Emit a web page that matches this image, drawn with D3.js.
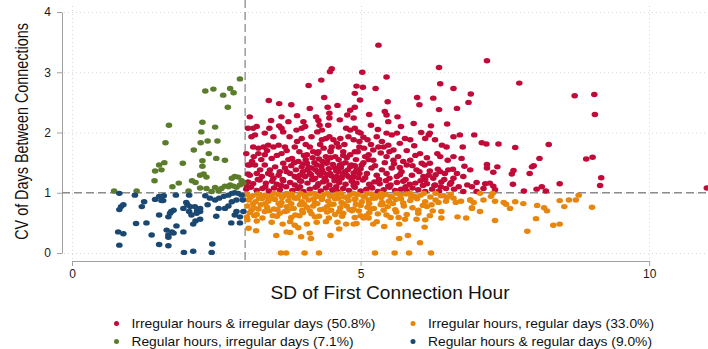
<!DOCTYPE html>
<html>
<head>
<meta charset="utf-8">
<script src="https://cdn.jsdelivr.net/npm/d3@7"></script>
<style>
  html, body { margin: 0; padding: 0; background: #fff; }
  svg { display: block; font-family: "Liberation Sans", Arial, Helvetica, sans-serif; }
</style>
</head>
<body>
<svg id="chart" width="708" height="349"></svg>
<script>
// Each point: [SD of first connection hour, CV of days between connections]

const irregularHoursIrregularDays = [
  [5.31,3.45],[4.50,3.06],[4.47,3.01],[5.03,3.00],[5.45,2.92],[6.36,3.08],[4.32,2.87],[4.10,2.78],[4.93,2.77],[5.04,2.75],
  [5.26,2.73],[6.38,2.81],[6.61,2.73],[6.91,2.64],[4.90,2.65],[4.37,2.58],[4.99,2.54],[3.41,2.53],[3.59,2.48],[3.80,2.46],
  [5.47,2.51],[5.98,2.58],[6.02,2.46],[6.26,2.57],[6.36,2.38],[6.67,2.40],[6.87,2.50],[4.43,2.42],[4.90,2.42],[4.82,2.37],
  [5.42,2.35],[4.46,2.32],[4.46,2.24],[3.08,2.26],[3.63,2.26],[4.23,2.26],[4.27,2.20],[4.77,2.29],[4.88,2.24],[5.45,2.29],
  [5.48,2.18],[5.64,2.26],[3.75,2.18],[4.01,2.18],[4.04,2.10],[3.14,2.07],[3.20,2.10],[3.42,2.07],[3.59,2.11],[3.63,2.07],
  [3.89,2.04],[3.98,2.07],[4.29,2.12],[4.33,2.04],[4.44,2.12],[4.64,2.21],[4.75,2.07],[4.82,2.04],[4.90,2.07],[4.96,2.01],
  [5.00,1.99],[5.18,2.12],[5.92,2.15],[6.22,2.11],[6.50,2.14],
  [3.02,1.65],[3.11,1.93],[3.17,1.96],[3.34,1.99],[3.49,1.93],[3.66,2.01],[3.77,1.93],[3.98,1.90],[4.15,1.93],[4.25,2.01],
  [4.33,1.88],[4.46,1.93],[4.53,1.88],[4.59,1.82],[4.50,1.76],[4.79,1.93],[4.88,1.88],[4.98,1.85],[5.12,1.88],[5.28,1.93],
  [5.37,1.85],[5.45,1.99],[5.54,1.96],[5.63,1.99],[5.77,1.90],[5.86,1.88],[6.12,1.90],[6.18,1.96],[6.20,1.99],[6.41,1.79],
  [6.49,1.76],[6.61,1.93],[6.72,1.96],[6.77,1.76],[6.33,1.65],[6.38,1.60],[6.61,1.60],[6.29,1.88],[5.93,1.78],[6.51,1.54],
  [6.75,1.57],[6.80,1.44],[6.60,1.39],[5.68,1.42],[6.11,1.46],[6.20,1.36],[6.34,1.39],[6.46,1.32],[6.61,1.24],[6.57,1.17],
  [6.29,1.13],[6.39,1.10],
  [3.14,1.76],[3.23,1.74],[3.32,1.76],[3.40,1.79],[3.49,1.76],[3.58,1.79],[3.69,1.76],[3.15,1.60],[3.23,1.65],[3.34,1.63],
  [3.46,1.57],[3.63,1.65],[3.66,1.49],[3.81,1.57],[3.86,1.76],[3.94,1.68],[4.07,1.63],[4.12,1.76],[4.18,1.68],[4.27,1.68],
  [4.36,1.74],[4.40,1.60],[4.48,1.68],[4.56,1.60],[4.62,1.76],[4.70,1.68],[4.82,1.63],[4.90,1.68],[4.98,1.76],[5.06,1.74],
  [5.14,1.63],[5.22,1.71],[5.31,1.76],[5.40,1.76],[5.48,1.79],[5.57,1.71],[5.68,1.82],[5.08,1.60],[5.22,1.54],[5.45,1.60],
  [5.57,1.54],[5.74,1.52],[5.86,1.54],[6.03,1.65],[6.06,1.49],[6.20,1.49],
  [3.08,1.46],[3.17,1.46],[3.26,1.38],[3.34,1.46],[3.43,1.38],[3.52,1.43],[3.60,1.35],[3.69,1.41],[3.08,1.29],[3.20,1.32],
  [3.29,1.27],[3.40,1.32],[3.49,1.24],[3.58,1.29],[3.78,1.32],[3.86,1.27],[3.98,1.43],[4.07,1.49],[4.15,1.41],[4.24,1.46],
  [4.33,1.38],[4.41,1.49],[4.47,1.32],[4.56,1.41],[4.64,1.46],[4.73,1.35],[4.82,1.43],[3.95,1.29],[4.04,1.27],[4.12,1.32],
  [4.21,1.24],[4.30,1.29],[4.38,1.24],[4.59,1.27],[4.67,1.24],[4.76,1.29],[4.88,1.27],[4.93,1.38],[5.02,1.46],[5.11,1.32],
  [5.19,1.41],[5.28,1.29],[5.37,1.38],[5.45,1.32],[5.54,1.41],[5.63,1.27],[5.71,1.35],[5.80,1.46],[5.89,1.29],[5.97,1.38],
  [6.09,1.27],[6.18,1.29],[6.26,1.24],[6.38,1.35],[6.52,1.38],[6.67,1.32],[6.78,1.27],[6.90,1.38],
  [3.80,1.45],[3.88,1.38],[3.92,1.52],[4.00,1.35],[4.05,1.55],[4.10,1.42],[4.14,1.30],[4.20,1.50],[4.22,1.38],[4.28,1.56],
  [4.32,1.44],[4.36,1.33],[4.42,1.52],[4.45,1.40],[4.50,1.28],[4.52,1.47],[4.58,1.36],[4.62,1.55],[4.66,1.42],[4.70,1.30],
  [4.74,1.50],[4.78,1.38],[4.84,1.46],[4.88,1.33],[4.92,1.55],[4.96,1.25],[5.00,1.40],[5.05,1.50],[4.18,1.22],[4.40,1.20],
  [4.60,1.22],[4.85,1.20],[3.95,1.20],[4.02,1.62],[4.25,1.65],[4.48,1.70],[4.70,1.62],[4.95,1.68],
  [3.05,2.07],[3.05,1.46],[3.05,1.31],[3.03,1.11],
  [3.12,1.52],[3.28,1.55],[3.38,1.70],[3.55,1.62],[3.72,1.70],[3.75,1.55],[3.90,1.85],[4.05,1.80],[4.30,1.80],[4.40,1.90],
  [4.65,1.90],[4.72,1.80],[5.05,1.92],[5.18,1.80],[5.35,1.66],[5.50,1.68],[5.65,1.60],[5.80,1.70],[5.95,1.62],[6.15,1.58],
  [3.22,1.22],[3.45,1.30],[3.65,1.22],[3.72,1.35],[3.85,1.50],[3.90,1.25],[4.00,1.48],[4.08,1.38],[4.17,1.58],[4.26,1.34],
  [4.34,1.52],[4.43,1.30],[4.48,1.58],[4.55,1.24],[4.62,1.35],[4.68,1.48],[4.76,1.58],[4.80,1.26],[4.90,1.45],[4.98,1.32],
  [5.08,1.25],[5.14,1.55],[5.25,1.45],[5.32,1.22],[5.42,1.50],[5.50,1.24],[5.58,1.48],[5.68,1.30],[5.78,1.22],[5.90,1.45],
  [6.02,1.35],[6.12,1.22],[6.30,1.30],[6.45,1.22],
  [3.35,1.10],[3.62,1.12],[3.95,1.10],[4.25,1.11],[4.58,1.10],[4.88,1.12],[5.18,1.10],[5.48,1.11],[5.78,1.10],[6.08,1.12],
  [6.62,1.06],[6.78,1.02],
  [3.45,2.20],[3.90,2.28],[4.12,2.40],[4.60,2.45],[5.15,2.30],[5.30,2.05],[5.70,2.10],[6.05,2.00],
  [3.05,1.18],[3.14,1.15],[3.25,1.21],[3.36,1.16],[3.47,1.19],[3.55,1.14],[3.66,1.20],[3.78,1.17],[3.86,1.13],[3.97,1.19],
  [4.08,1.16],[4.16,1.22],[4.27,1.15],[4.35,1.18],[4.46,1.13],[4.55,1.20],[4.63,1.17],[4.74,1.14],[4.85,1.19],[4.93,1.16],
  [5.04,1.21],[5.15,1.14],[5.24,1.18],[5.33,1.15],[5.44,1.20],[5.52,1.13],[5.63,1.17],[5.74,1.19],[5.85,1.14],[5.95,1.16],
  [6.04,1.20],[6.15,1.15],[6.28,1.12],[6.40,1.18],[6.55,1.14],[6.70,1.10],[6.85,1.13],
  [3.02,1.06],[3.10,1.09],[3.20,1.04],[3.30,1.07],[3.41,1.03],[3.50,1.08],[3.60,1.05],[3.71,1.10],[3.82,1.04],[3.91,1.07],
  [4.01,1.02],[4.12,1.06],[4.22,1.09],[4.31,1.03],[4.40,1.08],[4.51,1.05],[4.60,1.02],[4.70,1.07],[4.80,1.04],[4.90,1.09],
  [5.00,1.03],[5.10,1.06],[5.20,1.08],[5.30,1.02],[5.40,1.05],[5.50,1.09],[5.60,1.04],[5.70,1.06],[5.80,1.03],[5.90,1.08],
  [6.00,1.05],[6.12,1.02],[6.24,1.06],[6.36,1.03],[6.48,1.07],
  [7.19,3.19],[7.75,2.82],[8.71,2.61],[9.05,2.63],[9.06,2.30],[6.97,1.96],[7.10,1.83],[7.18,1.81],[7.39,1.81],[7.68,1.75],
  [8.26,1.80],[8.10,1.57],[8.00,1.45],[7.97,1.43],[8.91,1.56],[9.02,1.59],[7.19,1.47],[7.19,1.41],[7.37,1.43],[7.30,1.34],
  [7.65,1.37],[7.62,1.31],[7.93,1.32],[9.17,1.25],[9.15,1.12],[8.45,1.15],[7.64,1.14],[7.01,1.17],[7.16,1.15],[7.24,1.16],
  [7.30,1.11],[7.33,1.05],[7.13,1.07],[6.93,1.10],[7.01,1.02],[7.83,1.03],[8.05,1.06],[8.14,1.10],[8.21,1.03],[11.00,1.08]
];

const irregularHoursRegularDays = [
  [3.06,0.41],[3.19,0.37],[3.54,0.29],[3.72,0.35],[3.78,0.34],[3.97,0.27],[4.12,0.33],[4.14,0.24],[3.92,0.42],[4.48,0.29],
  [4.63,0.40],[4.88,0.48],[3.62,0.00],[3.71,0.00],[4.03,0.00],[4.28,0.00],[5.25,0.00],[5.59,0.00],[5.84,0.00],[6.22,0.00],
  [3.04,0.55],[3.20,0.53],[3.46,0.51],[3.65,0.48],[3.78,0.52],[3.86,0.46],[4.07,0.48],[4.24,0.51],[4.40,0.52],[4.60,0.51],
  [4.75,0.48],[4.93,0.49],[5.05,0.58],
  [5.14,0.58],[5.22,0.48],[5.28,0.52],[5.41,0.44],[5.52,0.59],[5.66,0.59],[5.67,0.48],[5.77,0.56],[5.97,0.56],[6.12,0.55],
  [6.11,0.43],[6.40,0.58],[6.68,0.60],[6.83,0.58],[6.93,0.75],[5.67,0.24],[5.82,0.29],[6.03,0.17],[6.00,0.71],[6.15,0.77],
  [6.23,0.80],[6.35,0.84],[6.44,0.95],[6.61,0.91],[6.74,0.86],[6.90,0.88],[6.96,0.84],
  [7.07,0.99],[7.29,0.99],[7.26,0.94],[7.13,0.88],[6.90,0.88],[6.93,0.74],[7.07,0.69],[7.33,0.86],[7.33,0.54],[7.48,0.84],
  [7.52,0.81],[7.59,0.74],[7.68,0.85],[7.82,0.82],[7.89,0.36],[8.04,0.57],[8.06,0.79],[8.18,0.75],[8.23,0.70],[8.34,0.46],
  [8.45,0.48],[8.45,0.87],[8.53,0.77],[8.61,0.88],[8.73,0.88],[8.78,0.96],[9.01,0.76],
  [3.03,0.97],[3.13,0.95],[3.22,0.98],[3.34,0.96],[3.44,0.94],[3.57,0.97],[3.67,0.95],[3.81,0.98],[3.91,0.93],[4.03,0.96],
  [4.12,0.98],[4.26,0.94],[4.36,0.97],[4.49,0.95],[4.59,0.98],[4.72,0.93],[4.81,0.96],[4.95,0.97],[5.05,0.94],[5.19,0.98],
  [5.29,0.95],[5.43,0.97],[5.54,0.93],[5.69,0.96],[5.79,0.98],[5.94,0.94],[6.04,0.96],[6.21,0.93],[6.39,0.95],[6.56,0.97],
  [3.06,0.88],[3.18,0.85],[3.29,0.90],[3.40,0.86],[3.52,0.89],[3.63,0.84],[3.75,0.87],[3.86,0.91],[3.98,0.85],[4.10,0.88],
  [4.21,0.83],[4.33,0.89],[4.44,0.86],[4.56,0.90],[4.67,0.84],[4.79,0.87],[4.90,0.89],[5.02,0.85],[5.14,0.88],[5.25,0.91],
  [5.37,0.84],[5.49,0.86],[5.61,0.89],[5.74,0.83],[5.86,0.87],[5.98,0.90],[6.12,0.85],[6.30,0.88],[6.48,0.86],[6.65,0.84],
  [3.04,0.78],[3.15,0.75],[3.27,0.80],[3.38,0.76],[3.50,0.73],[3.61,0.79],[3.72,0.77],[3.84,0.74],[3.95,0.80],[4.07,0.76],
  [4.18,0.78],[4.30,0.72],[4.42,0.77],[4.53,0.81],[4.65,0.75],[4.76,0.78],[4.88,0.73],[5.00,0.79],[5.12,0.76],[5.23,0.74],
  [5.35,0.80],[5.47,0.77],[5.60,0.72],[5.75,0.78],[5.90,0.75],[6.08,0.79],
  [3.08,0.67],[3.20,0.64],[3.34,0.69],[3.48,0.62],[3.60,0.66],[3.73,0.70],[3.87,0.63],[4.00,0.67],[4.15,0.65],[4.28,0.61],
  [4.42,0.68],[4.56,0.64],[4.70,0.66],[4.85,0.70],[5.00,0.62],[5.15,0.67],[5.30,0.65],[5.45,0.63],[5.62,0.68],[5.80,0.64],
  [6.00,0.66],[6.20,0.62],[6.40,0.69],
  [3.09,0.92],[3.24,0.91],[3.37,0.93],[3.49,0.90],[3.64,0.92],[3.77,0.94],[3.90,0.91],[4.04,0.93],[4.19,0.90],[4.33,0.92],
  [4.47,0.94],[4.62,0.91],[4.77,0.92],[4.91,0.90],[5.07,0.93],[5.21,0.91],[5.36,0.92],[5.52,0.94],[5.70,0.90],[5.88,0.92],
  [3.11,0.71],[3.23,0.73],[3.42,0.70],[3.56,0.72],[3.69,0.69],[3.82,0.74],[3.99,0.71],[4.12,0.70],[4.36,0.73],[4.49,0.71],
  [4.63,0.69],[4.81,0.72],[4.97,0.70],[5.18,0.73],[5.40,0.71],
  [3.03,0.60],[3.16,0.62],[3.30,0.58],[3.55,0.61],[3.80,0.59],[3.94,0.62],[4.21,0.60],[4.45,0.58],[4.68,0.61],[4.90,0.59],
  [5.10,0.62],
  [3.14,0.82],[3.35,0.82],[3.58,0.82],[3.80,0.82],[4.02,0.81],[4.25,0.82],[4.48,0.81],[4.70,0.82],[4.92,0.81],[5.15,0.82],
  [5.38,0.81],[5.56,0.82],[3.26,0.96],[3.50,0.99],[3.72,0.99],[3.96,0.99],[4.20,0.99],[4.42,0.99],[4.66,0.99],[4.88,0.99],
  [5.12,0.99],[5.36,0.99],[5.62,0.99],[5.86,0.99],[6.10,0.99],[6.30,0.99],[6.50,0.92],[6.25,0.70]
];

const regularHoursIrregularDays = [
  [2.91,2.89],[2.31,2.69],[2.45,2.72],[2.74,2.73],[2.80,2.66],[2.62,2.62],[2.70,2.42],[1.68,2.12],[2.26,2.17],[2.48,2.09],
  [2.24,2.01],[1.62,1.83],[2.23,1.83],[2.35,1.86],[2.52,1.86],[2.11,1.71],[2.37,1.65],[2.50,1.57],[2.65,1.54],[2.26,1.53],
  [2.26,1.44],[1.60,1.50],[1.51,1.46],[1.92,1.49],[1.44,1.36],[1.55,1.38],[1.43,1.20],[2.22,1.29],[2.28,1.31],[2.33,1.26],
  [2.08,1.20],[2.14,1.17],[1.85,1.16],[1.74,1.10],[2.02,1.03],[2.22,1.08],[2.33,1.07],[2.48,1.09],[2.42,1.02],[2.54,1.03],
  [2.65,1.11],[2.74,1.13],[2.82,1.27],[2.88,1.26],[2.77,1.24],[2.91,1.13],[2.97,1.16],[0.73,1.03],[1.12,1.03],[2.59,1.07],
  [2.71,1.10],[2.80,1.11],[2.85,1.09],[2.94,1.20]
];

const regularHoursRegularDays = [
  [0.82,0.99],[1.09,0.96],[1.25,0.85],[1.44,0.89],[1.51,0.94],[1.59,0.95],[1.55,0.87],[1.80,0.96],[2.03,0.96],[2.31,0.95],
  [2.39,0.91],[2.48,0.88],[2.55,0.91],[2.63,0.94],[2.71,0.96],[2.77,0.99],[2.82,1.00],[2.88,0.99],[2.94,0.96],[2.96,0.88],
  [2.85,0.88],[2.77,0.85],[2.71,0.78],[2.65,0.74],[2.54,0.74],[2.35,0.80],[1.98,0.84],[2.00,0.80],[2.05,0.77],[2.13,0.77],
  [2.17,0.71],[2.22,0.74],[2.03,0.69],[2.07,0.63],[2.16,0.66],[2.22,0.69],[1.93,0.74],[1.72,0.69],[1.76,0.71],[1.67,0.60],
  [1.51,0.63],[2.50,0.61],[0.85,0.77],[0.89,0.80],[0.82,0.72],[1.21,0.77],[1.11,0.49],[1.29,0.50],[1.81,0.45],[2.10,0.48],
  [2.14,0.53],[2.22,0.56],[2.76,0.50],[2.91,0.50],[2.85,0.69],[2.97,0.69],[2.91,0.60],[2.82,0.63],[1.64,0.38],[1.73,0.35],
  [1.67,0.30],[1.93,0.35],[1.76,0.33],[0.80,0.35],[0.89,0.32],[1.38,0.30],[1.67,0.26],[0.82,0.13],[1.51,0.14],[1.67,0.12],
  [2.43,0.15],[1.94,0.01],[2.10,0.03],[2.42,0.01],[1.70,0.66],[1.58,0.87]
];

const groups = [
  { label: "Irregular hours & irregular days (50.8%)", color: "#c20a38", points: irregularHoursIrregularDays },
  { label: "Irregular hours, regular days (33.0%)",    color: "#e8860c", points: irregularHoursRegularDays },
  { label: "Regular hours, irregular days (7.1%)",     color: "#5b7d2b", points: regularHoursIrregularDays },
  { label: "Regular hours & regular days (9.0%)",      color: "#1b4872", points: regularHoursRegularDays }
];

const xTicks = [0, 5, 10];
const yTicks = [0, 1, 2, 3, 4];
const hourCutoff = 3;
const dayCutoff = 1;

const svg = d3.select("#chart");
svg.append("rect").attr("width", 708).attr("height", 349).attr("fill", "#fff");

const x = d3.scaleLinear().domain([0, 11.02]).range([72, 708]);
const y = d3.scaleLinear().domain([0, 4]).range([253, 12]);
const xAxisScale = d3.scaleLinear().domain([0, 10]).range([x(0), x(10)]);

// dotted grid
const grid = svg.append("g").attr("stroke", "#d9d9d9").attr("stroke-width", 1).attr("stroke-dasharray", "1,3");
grid.selectAll("line.h").data(yTicks).join("line")
  .attr("x1", 64).attr("x2", 708).attr("y1", d => y(d) + 0.5).attr("y2", d => y(d) + 0.5);
grid.selectAll("line.v").data(xTicks).join("line")
  .attr("x1", d => Math.round(x(d)) + 0.5).attr("x2", d => Math.round(x(d)) + 0.5).attr("y1", 6).attr("y2", 259);

// axes
const yAxis = svg.append("g").attr("transform", "translate(62,0)")
  .call(d3.axisLeft(y).tickValues(yTicks).tickSize(5).tickSizeOuter(0).tickPadding(6).tickFormat(d3.format("d")));
const xAxis = svg.append("g").attr("transform", "translate(0,261)")
  .call(d3.axisBottom(xAxisScale).tickValues(xTicks).tickSize(5).tickSizeOuter(0).tickPadding(3).tickFormat(d3.format("d")));
[yAxis, xAxis].forEach(g => {
  g.select(".domain").attr("stroke", "#a0a0a0");
  g.selectAll(".tick line").attr("stroke", "#a0a0a0");
  g.selectAll(".tick text").attr("fill", "#1a1a1a").style("font-size", "12px")
    .style("font-family", "'Liberation Sans', Arial, sans-serif");
});

// cut-off reference lines
const ref = svg.append("g").attr("stroke", "#8c8c8c").attr("stroke-width", 1.3).attr("stroke-dasharray", "8,4");
ref.append("line").attr("x1", 62).attr("x2", 708).attr("y1", y(dayCutoff)).attr("y2", y(dayCutoff));
ref.append("line").attr("x1", x(hourCutoff)).attr("x2", x(hourCutoff)).attr("y1", 0).attr("y2", 261);

// scatter
svg.append("clipPath").attr("id", "plotClip")
  .append("rect").attr("x", 62).attr("y", 0).attr("width", 646).attr("height", 262);
const marks = svg.append("g").attr("clip-path", "url(#plotClip)");
groups.forEach(g => {
  marks.append("g").attr("fill", g.color)
    .selectAll("ellipse").data(g.points).join("ellipse")
    .attr("cx", d => x(d[0])).attr("cy", d => y(d[1]))
    .attr("rx", 3.3).attr("ry", 2.7);
});

// axis titles (glyphs stretched across the reading direction)
svg.append("text")
  .attr("transform", "translate(28,131.5) rotate(-90) scale(1,1.22)")
  .attr("text-anchor", "middle")
  .attr("fill", "#111").style("font-size", "14.4px")
  .text("CV of Days Between Connections");

svg.append("text")
  .attr("x", 390).attr("y", 299)
  .attr("text-anchor", "middle")
  .attr("textLength", 239).attr("lengthAdjust", "spacingAndGlyphs")
  .attr("fill", "#111").style("font-size", "18px")
  .text("SD of First Connection Hour");

// legend (two columns, filled row by row)
const legendCols = [116.5, 413];
const legendRows = [323.5, 341.5];
const legendWidths = [244, 226, 222, 224];
groups.forEach((g, i) => {
  const cx = legendCols[i % 2], cy = legendRows[Math.floor(i / 2)];
  svg.append("circle").attr("cx", cx).attr("cy", cy).attr("r", 2.5).attr("fill", g.color);
  svg.append("text").attr("x", cx + 15).attr("y", cy + 4.5)
    .attr("textLength", legendWidths[i]).attr("lengthAdjust", "spacingAndGlyphs")
    .attr("fill", "#111").style("font-size", "13px")
    .text(g.label);
});
</script>
</body>
</html>
